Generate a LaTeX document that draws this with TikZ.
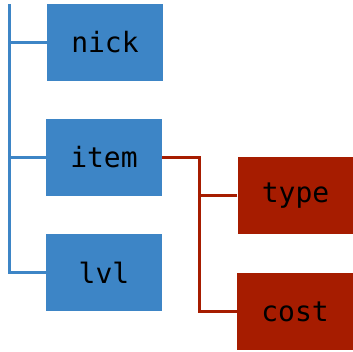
\documentclass[tikz,border=0pt]{standalone}
\usepackage{fontspec}
\setmonofont{DejaVu Sans Mono}
\definecolor{boxblue}{HTML}{3D85C6}
\definecolor{boxred}{HTML}{A61C00}
\begin{document}
\begin{tikzpicture}[x=1pt,y=-1pt,
  field/.style={fill=boxblue, draw=none, minimum width=116pt, minimum height=77pt, inner sep=0pt, font=\ttfamily\fontsize{28}{32}\selectfont, text=black},
  subfield/.style={field, fill=boxred},
  blueline/.style={draw=boxblue, line width=3.8pt},
  redline/.style={draw=boxred, line width=3.8pt}]
\useasboundingbox (0,0) rectangle (353,351);
\node[field] (nick) at (105,42.5) {nick};
\node[field] (item) at (104,157.5) {item};
\node[field] (lvl) at (104,272.5) {lvl};
\node[subfield] (type) at (295.5,195.5) {type};
\node[subfield] (cost) at (295,311.5) {cost};
\coordinate (trunk) at (9.5,4);
\coordinate (fork) at (199.5,157.5);
\draw[blueline] (trunk) |- (lvl.west);
\draw[blueline] (nick.west) -- (nick.west -| trunk);
\draw[blueline] (item.west) -- (item.west -| trunk);
\draw[redline] (item.east) -- (fork) |- (cost.west);
\draw[redline] (type.west) -- (type.west -| fork);
\end{tikzpicture}
\end{document}
